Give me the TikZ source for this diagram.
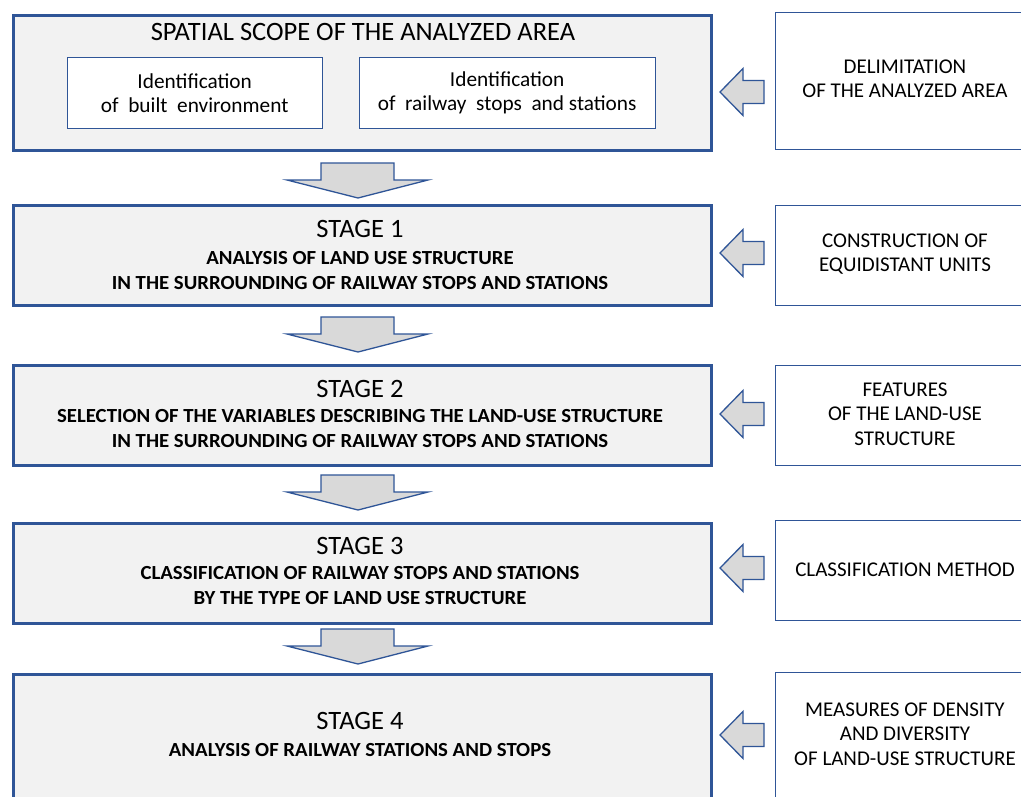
\documentclass[tikz,border=0pt]{standalone}
\usepackage{fontspec}
\setmainfont{Carlito}
\newfontfamily\widebold{Carlito}[FakeStretch=1.04]
\usetikzlibrary{calc}
\definecolor{bord}{HTML}{2F5597}
\definecolor{boxfill}{HTML}{F2F2F2}
\definecolor{arrfill}{HTML}{D9D9D9}
\begin{document}
\begin{tikzpicture}[x=1pt,y=-1pt,
  mainbox/.style={draw=bord, line width=3pt, fill=boxfill, anchor=north west, minimum width=698pt, inner sep=0pt},
  sidebox/.style={draw=bord, line width=1.4pt, fill=white, anchor=north west, minimum width=262pt, inner sep=0pt},
  innerbox/.style={draw=bord, line width=1.4pt, fill=white, anchor=north west, minimum width=255pt, minimum height=71pt, inner sep=0pt},
  titletext/.style={font=\fontsize{26.5}{30}\selectfont, inner sep=0pt},
  boldtext/.style={font=\widebold\fontsize{20}{25}\selectfont\bfseries, align=center, inner sep=0pt},
  sidetext/.style={font=\fontsize{21}{24.5}\selectfont, align=center, inner sep=0pt},
  innertext/.style={font=\fontsize{21.3}{24}\selectfont, align=center, inner sep=0pt},
  blockarrow/.style={draw=bord, line width=1.3pt, fill=arrfill, line join=miter},
  downarr/.pic={\path[blockarrow] (-37,-17) -- (36,-17) -- (36,0) -- (70,0) -- (0,18) -- (-71,0) -- (-37,0) -- cycle;},
  leftarr/.pic={\path[blockarrow] (0,0) -- (23,-23.5) -- (23,-11.5) -- (44,-11.5) -- (44,11.5) -- (23,11.5) -- (23,23.5) -- cycle;}
]
\useasboundingbox (0,0) rectangle (1021,796);
\fill[white] (0,0) rectangle (1021,796);

% main column
\node[mainbox, minimum height=135pt] (top) at (11.5,13.5) {};
\node[titletext] (toptitle) at (363,32) {SPATIAL SCOPE OF THE ANALYZED AREA};
\node[innerbox] (inA) at (66.5,56.5) {};
\node[innertext] (inAtext) at (inA.center) {Identification\\of~ built~ environment};
\node[innerbox, minimum width=296pt] (inB) at (358.5,56.5) {};
\node[innertext] (inBtext) at (inB.center) {Identification\\of~ railway~ stops~ and stations};

\node[mainbox, minimum height=100pt] (st1) at (11.5,204) {};
\node[titletext] (st1title) at (360,229) {STAGE 1};
\node[boldtext] (st1text) at (360,270.5) {ANALYSIS OF LAND USE STRUCTURE\\IN THE SURROUNDING OF RAILWAY STOPS AND STATIONS};

\node[mainbox, minimum height=100pt] (st2) at (11.5,364) {};
\node[titletext] (st2title) at (360,389) {STAGE 2};
\node[boldtext] (st2text) at (360,429) {SELECTION OF THE VARIABLES DESCRIBING THE LAND-USE STRUCTURE\\IN THE SURROUNDING OF RAILWAY STOPS AND STATIONS};

\node[mainbox, minimum height=100pt] (st3) at (11.5,521.5) {};
\node[titletext] (st3title) at (360,546) {STAGE 3};
\node[boldtext] (st3text) at (360,586) {CLASSIFICATION OF RAILWAY STOPS AND STATIONS\\BY THE TYPE OF LAND USE STRUCTURE};

\node[mainbox, minimum height=130pt] (st4) at (11.5,672.5) {};
\node[titletext] (st4title) at (360,721) {STAGE 4};
\node[boldtext] (st4text) at (360,750) {ANALYSIS OF RAILWAY STATIONS AND STOPS};

% side column
\node[sidebox, minimum height=137pt] (sd0) at (775,12) {};
\node[sidetext] (sd0text) at (905,79) {DELIMITATION\\OF THE ANALYZED AREA};
\node[sidebox, minimum height=100pt] (sd1) at (775,205) {};
\node[sidetext] (sd1text) at (905,254) {CONSTRUCTION OF\\EQUIDISTANT UNITS};
\node[sidebox, minimum height=100pt] (sd2) at (775,365) {};
\node[sidetext] (sd2text) at (905,414) {FEATURES\\OF THE LAND-USE\\STRUCTURE};
\node[sidebox, minimum height=100pt] (sd3) at (775,520) {};
\node[sidetext] (sd3text) at (905,570) {CLASSIFICATION METHOD};
\node[sidebox, minimum height=130pt] (sd4) at (775,672) {};
\node[sidetext] (sd4text) at (905,734) {MEASURES OF DENSITY\\AND DIVERSITY\\OF LAND-USE STRUCTURE};

% down block arrows
\pic at (358,180) {downarr};
\pic at (358,334) {downarr};
\pic at (358,492) {downarr};
\pic at (358,646) {downarr};

% left block arrows
\pic at (720,92) {leftarr};
\pic at (720,253) {leftarr};
\pic at (720,414) {leftarr};
\pic at (720,568) {leftarr};
\pic at (720,735) {leftarr};
\end{tikzpicture}
\end{document}
